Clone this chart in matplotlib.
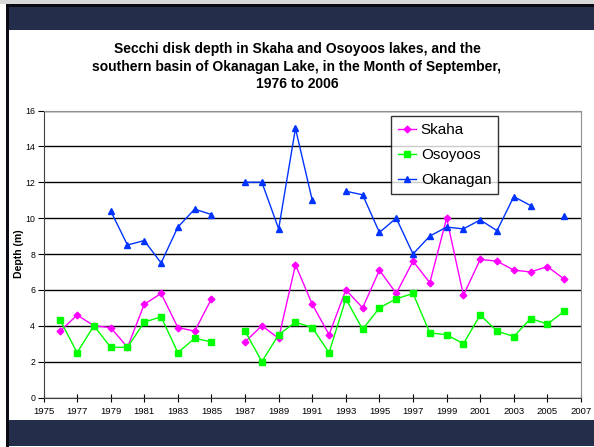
import numpy as np
import matplotlib.pyplot as plt
from matplotlib.patches import Rectangle

nan = np.nan
years = list(range(1976, 2007))

# Secchi depth (m), September, missing years as nan
skaha = [3.7, 4.6, 4.0, 3.9, 2.8, 5.2, 5.8, 3.9, 3.7, 5.5, nan,
         3.1, 4.0, 3.3, 7.4, 5.2, 3.5, 6.0, 5.0, 7.1, 5.8, 7.6,
         6.4, 10.0, 5.7, 7.7, 7.6, 7.1, 7.0, 7.3, 6.6]
osoyoos = [4.3, 2.5, 4.0, 2.8, 2.8, 4.2, 4.5, 2.5, 3.3, 3.1, nan,
           3.7, 2.0, 3.5, 4.2, 3.9, 2.5, 5.5, 3.8, 5.0, 5.5, 5.8,
           3.6, 3.5, 3.0, 4.6, 3.7, 3.4, 4.4, 4.1, 4.8]
okanagan = [nan, nan, nan, 10.4, 8.5, 8.75, 7.5, 9.5, 10.5, 10.2, nan,
            12.0, 12.0, 9.4, 15.0, 11.0, nan, 11.5, 11.3, 9.2, 10.0, 8.0,
            9.0, 9.5, 9.4, 9.9, 9.3, 11.2, 10.7, nan, 10.1]

title = ("Secchi disk depth in Skaha and Osoyoos lakes, and the\n"
         "southern basin of Okanagan Lake, in the Month of September,\n"
         "1976 to 2006")

plt.rcParams['font.family'] = ['Liberation Sans', 'DejaVu Sans']

W, H = 594, 447
fig = plt.figure(figsize=(W / 100, H / 100), dpi=100)
fig.patch.set_facecolor('white')

navy = '#242e4a'


def band(x0, y0, x1, y1, color):
    # rectangle given in pixel coords from the top-left corner
    fig.patches.append(Rectangle((x0 / W, 1 - y1 / H), (x1 - x0) / W, (y1 - y0) / H,
                                 transform=fig.transFigure, facecolor=color,
                                 edgecolor='none', zorder=0))


band(0, 0, W, 4, '#d8d8d8')
band(6, 4, W, 7, '#0a0a12')
band(6, 7, W, 30, navy)
band(6, 420, W, 446, navy)
band(6, 4, 9, 447, '#0a0a12')

ax = fig.add_axes([43.5 / W, 1 - 397.5 / H, (581 - 43.5) / W, (397.5 - 110.5) / H])
ax.plot(years, skaha, color='#ff00ff', marker='D', markersize=3.4, lw=1, label='Skaha')
ax.plot(years, osoyoos, color='#00ff00', marker='s', markersize=4.5, lw=1, label='Osoyoos')
ax.plot(years, okanagan, color='#0033ff', marker='^', markersize=4, lw=1, label='Okanagan')

ax.set_xlim(1975, 2007)
ax.set_ylim(0, 16)
ax.set_xticks(range(1975, 2008, 2))
ax.set_yticks(range(0, 17, 2))
ax.yaxis.grid(True, color='black', lw=1)
ax.set_axisbelow(True)
ax.tick_params(axis='x', direction='inout', length=6, labelsize=6.8, pad=4)
ax.tick_params(axis='y', direction='out', length=4, labelsize=6.3, pad=2)
for s in ('top', 'right'):
    ax.spines[s].set_color('#909090')
for s in ('left', 'bottom'):
    ax.spines[s].set_color('#404040')
ax.set_ylabel('Depth (m)', fontsize=7.6, fontweight='bold', labelpad=1)

fig.text(0.5, 1 - 66.5 / H, title, ha='center', va='center', fontsize=10,
         fontweight='bold', linespacing=1.35)

leg = ax.legend(loc='upper left', bbox_to_anchor=(391 / W, 1 - 116 / H),
                bbox_transform=fig.transFigure, fontsize=11, frameon=True,
                fancybox=False, borderpad=0.45, labelspacing=0.72,
                handlelength=1.2, handletextpad=0.3, borderaxespad=0)
leg.get_frame().set_edgecolor('black')
leg.get_frame().set_linewidth(1)

fig.savefig('out.png', dpi=100)
